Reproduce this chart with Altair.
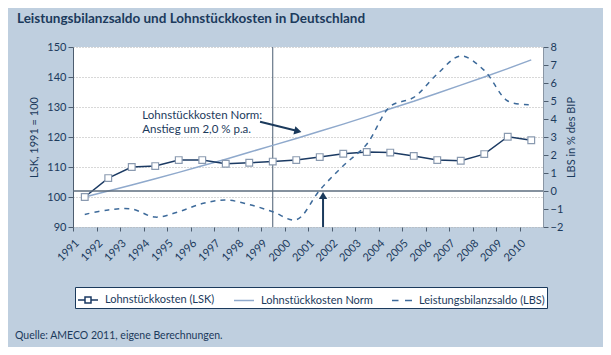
import altair as alt
import pandas as pd

FONT = "Lato"
NAVY = "#1b3a5c"

# ---- data ----
years = list(range(1991, 2011))
lsk = [100.0, 106.3, 110.0, 110.3, 112.3, 112.3, 111.1, 111.4, 111.8, 112.3,
       113.3, 114.4, 115.0, 114.8, 113.7, 112.3, 112.1, 114.3, 120.1, 118.9]
norm = [100.0, 102.0, 104.0, 106.1, 108.2, 110.4, 112.6, 114.9, 117.2, 119.5,
        121.9, 124.3, 126.8, 129.4, 131.9, 134.6, 137.3, 140.0, 142.8, 145.7]
lbs = [-1.3, -1.05, -1.0, -1.45, -1.15, -0.7, -0.5, -0.75, -1.15, -1.6,
       0.05, 1.4, 2.6, 4.7, 5.2, 6.5, 7.5, 6.7, 5.0, 4.8]
series_names = ["Lohnstückkosten (LSK)", "Lohnstückkosten Norm", "Leistungsbilanzsaldo (LBS)"]
left_ticks = [90, 100, 110, 120, 130, 140, 150]
right_ticks = [-2, -1, 0, 1, 2, 3, 4, 5, 6, 7, 8]

title_text = "Leistungsbilanzsaldo und Lohnstückkosten in Deutschland"
source_text = "Quelle: AMECO 2011, eigene Berechnungen."
annot_lines = ["Lohnstückkosten Norm:", "Anstieg um 2,0 % p.a."]
annot_year = [1993.45, 1993.45]
annot_val = [126.9, 122.4]
arrow1 = {"x": [1998.46], "y": [125.1], "x2": [2000.1], "y2": [121.9]}
arrow1_head = {"x": [2000.07], "y": [121.93]}
arrow2 = {"x": [2001.14], "y": [-2.0], "y2": [-0.3]}
arrow2_head = {"x": [2001.14], "y": [-0.25]}
euro_year = [1999]
zero_line = [0]

df = pd.DataFrame({"year": years, "lsk": lsk, "norm": norm, "lbs": lbs})

xscale = alt.Scale(domain=[1990.5, 2010.5], nice=False, zero=False)
x_axis = alt.Axis(values=years, title=None, labelAngle=-45, tickOffset=-11.75, labelOffset=0,
                  grid=False, domain=False, tickSize=4, tickColor="#4d5d6f", labelPadding=6,
                  labelColor=NAVY, labelFont=FONT, labelFontSize=11, format="d",
                  labelOverlap=False, labelBound=False)
X = alt.X("year:Q", scale=xscale, axis=x_axis)

yl_scale = alt.Scale(domain=[90, 150], nice=False, zero=False)
yl_axis = alt.Axis(values=left_ticks, title="LSK, 1991 = 100", grid=True, gridDash=[1, 2],
                   gridColor="#b0b0b0", tickSize=5, domainColor="#4d5d6f", tickColor="#4d5d6f",
                   labelColor=NAVY, labelFont=FONT, labelFontSize=11, titleFont=FONT,
                   titleFontSize=11, titleFontWeight="normal", titleColor=NAVY, titlePadding=7)

def YL(field):
    return alt.Y(field, scale=yl_scale, axis=yl_axis)

yr_scale = alt.Scale(domain=[-2, 8], nice=False, zero=False)
yr_axis = alt.Axis(values=right_ticks, orient="right", title="LBS in % des BIP", grid=False,
                   tickSize=5, domainColor="#8a96a4", tickColor="#4d5d6f",
                   labelColor=NAVY, labelFont=FONT, labelFontSize=11, titleFont=FONT,
                   titleFontSize=11, titleFontWeight="normal", titleColor=NAVY,
                   titlePadding=14, titleAngle=270)

def YR(field):
    return alt.Y(field, scale=yr_scale, axis=yr_axis)

base = alt.Chart(df)

vrule = alt.Chart(pd.DataFrame({"year": euro_year})).mark_rule(color="#4a5c72", strokeWidth=1).encode(x=X)

norm_line = base.mark_line(color="#8fa9cc", strokeWidth=1.5).encode(x=X, y=YL("norm:Q"))
lsk_line = base.mark_line(color="#1b3a63", strokeWidth=1.5).encode(x=X, y=YL("lsk:Q"))
lsk_pts = base.mark_point(shape="square", filled=True, fill="white", stroke="#8a9ab0",
                          strokeWidth=1.2, size=45, opacity=1).encode(x=X, y=YL("lsk:Q"))

annot = alt.Chart(pd.DataFrame({"year": annot_year, "val": annot_val, "t": annot_lines})).mark_text(
    align="left", baseline="middle", font=FONT, fontSize=11.5, color=NAVY
).encode(x=X, y=YL("val:Q"), text="t:N")

a1 = alt.Chart(pd.DataFrame(arrow1)).mark_rule(color=NAVY, strokeWidth=2).encode(
    x=alt.X("x:Q", scale=xscale, axis=x_axis), y=YL("y:Q"), x2="x2:Q", y2="y2:Q")
a1h = alt.Chart(pd.DataFrame(arrow1_head)).mark_point(shape="triangle-right", filled=True, angle=14,
                                                      size=70, color=NAVY, opacity=1).encode(
    x=alt.X("x:Q", scale=xscale, axis=x_axis), y=YL("y:Q"))

paths = ["M-1,0H-0.3M0.3,0H1M-0.3,-0.3H0.3V0.3H-0.3Z", "M-1,0H1", "M-1,0H-0.35M0.3,0H1"]
colors = ["#1b3a63", "#8fa9cc", "#3d6a9a"]
leg = alt.Legend(title=None, orient="none", legendX=2, legendY=240, direction="horizontal",
                 columns=3, symbolSize=400, symbolStrokeWidth=1.5, symbolOpacity=1,
                 labelFont=FONT, labelFontSize=11, labelColor=NAVY, labelOffset=6,
                 columnPadding=16, padding=2, fillColor="white", strokeColor=NAVY,
                 symbolFillColor="white")
leg_df = pd.DataFrame({"series": series_names, "year": [years[0]] * 3, "val": [lsk[0]] * 3})
legend_layer = alt.Chart(leg_df).mark_point(opacity=0, filled=False).encode(
    x=X, y=YL("val:Q"),
    shape=alt.Shape("series:N", scale=alt.Scale(domain=series_names, range=paths), legend=leg),
    color=alt.Color("series:N", scale=alt.Scale(domain=series_names, range=colors), legend=leg),
)

left = alt.layer(vrule, norm_line, lsk_line, lsk_pts, annot, a1, a1h, legend_layer)

zr = alt.Chart(pd.DataFrame({"v": zero_line})).mark_rule(color="#5d6d7e", strokeWidth=1.5).encode(y=YR("v:Q"))
lbs_line = base.mark_line(color="#3d6a9a", strokeWidth=1.5, strokeDash=[5, 5],
                          interpolate="catmull-rom").encode(x=X, y=YR("lbs:Q"))
a2 = alt.Chart(pd.DataFrame(arrow2)).mark_rule(color=NAVY, strokeWidth=2).encode(
    x=alt.X("x:Q", scale=xscale, axis=x_axis), y=YR("y:Q"), y2="y2:Q")
a2h = alt.Chart(pd.DataFrame(arrow2_head)).mark_point(shape="triangle-up", filled=True,
                                                      size=70, color=NAVY, opacity=1).encode(
    x=alt.X("x:Q", scale=xscale, axis=x_axis), y=YR("y:Q"))

right = alt.layer(zr, lbs_line, a2, a2h)

ttl = alt.Chart(pd.DataFrame({"t": [title_text]})).mark_text(
    align="left", baseline="alphabetic", font=FONT, fontSize=13.5, fontWeight="bold", color=NAVY
).encode(x=alt.value(-56), y=alt.value(-24), text="t:N")
src = alt.Chart(pd.DataFrame({"t": [source_text]})).mark_text(
    align="left", baseline="middle", font=FONT, fontSize=10.5, color=NAVY
).encode(x=alt.value(-58), y=alt.value(289), text="t:N")

chart = alt.layer(left, right, ttl, src).resolve_scale(y="independent").properties(
    width=470, height=180,
    autosize=alt.AutoSizeParams(type="none"),
    padding={"left": 65, "top": 39, "right": 60, "bottom": 120},
    background="#bfcfdf",
).configure_view(fill="white", stroke=None)

chart.save("out.html", embed_options={"renderer": "svg", "actions": False})
